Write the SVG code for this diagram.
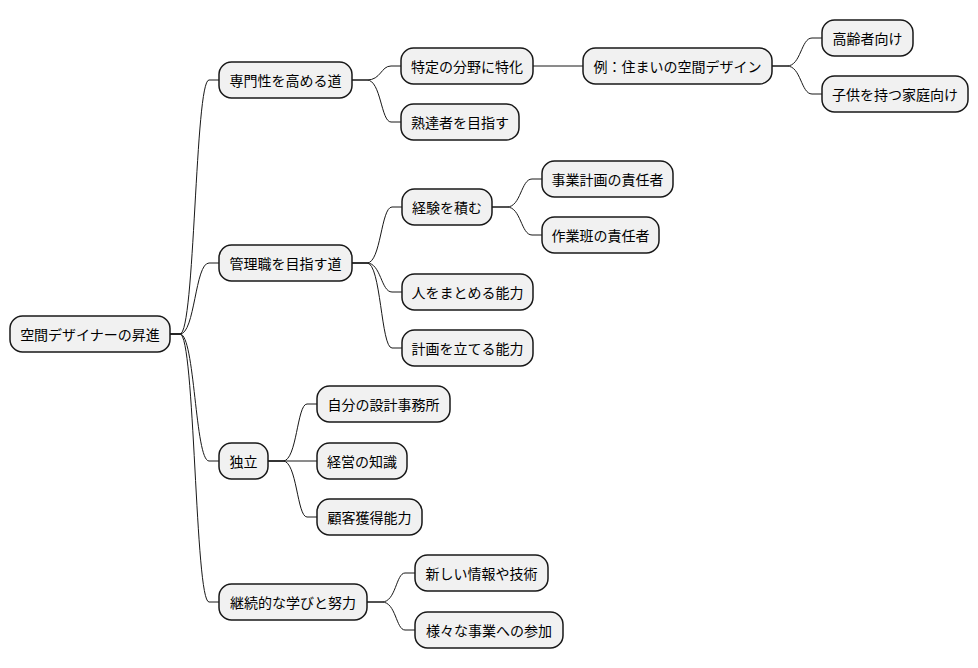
<svg xmlns="http://www.w3.org/2000/svg" width="978" height="668" viewBox="0 0 978 668">
<style>
.n rect{fill:#F1F1F1;stroke:#181818;stroke-width:1.5}
.n text{font-family:"Noto Sans CJK JP","Noto Sans",sans-serif;font-size:14px;fill:#000;text-anchor:middle;dominant-baseline:central}
.c path{fill:none;stroke:#181818;stroke-width:1}
</style>
<rect width="978" height="668" fill="#fff"/>
<g class="c">
<path d="M170,334 L180,334 C195,334 195,80 209,80 L219,80"/>
<path d="M170,334 L180,334 C195,334 195,263 209,263 L219,263"/>
<path d="M170,334 L180,334 C195,334 195,461 209,461 L219,461"/>
<path d="M170,334 L180,334 C195,334 195,602 209,602 L219,602"/>
<path d="M352,80 L367,80 C381,80 381,66 391,66 L401,66"/>
<path d="M352,80 L367,80 C381,80 381,122 391,122 L401,122"/>
<path d="M533,66 L583,66"/>
<path d="M772,66 L787,66 C801,66 801,38 812,38 L822,38"/>
<path d="M772,66 L787,66 C801,66 801,94 812,94 L822,94"/>
<path d="M352,263 L367,263 C381,263 381,207 392,207 L402,207"/>
<path d="M352,263 L367,263 C381,263 381,292 392,292 L402,292"/>
<path d="M352,263 L367,263 C381,263 381,348 392,348 L402,348"/>
<path d="M492,207 L507,207 C521,207 521,179 532,179 L542,179"/>
<path d="M492,207 L507,207 C521,207 521,235 532,235 L542,235"/>
<path d="M268,461 L283,461 C297,461 297,404 307,404 L317,404"/>
<path d="M268,461 L317,461"/>
<path d="M268,461 L283,461 C297,461 297,517 307,517 L317,517"/>
<path d="M367,602 L382,602 C396,602 396,573 405,573 L415,573"/>
<path d="M367,602 L382,602 C396,602 396,630 405,630 L415,630"/>
</g>
<g id="root" class="n"><rect x="10" y="316" width="160" height="36" rx="12.5"/><text x="90" y="334">空間デザイナーの昇進</text></g>
<g id="n1" class="n"><rect x="219" y="62" width="133" height="36" rx="12.5"/><text x="285.5" y="80">専門性を高める道</text></g>
<g id="n11" class="n"><rect x="401" y="48" width="132" height="36" rx="12.5"/><text x="467" y="66">特定の分野に特化</text></g>
<g id="n111" class="n"><rect x="583" y="48" width="189" height="36" rx="12.5"/><text x="677.5" y="66">例：住まいの空間デザイン</text></g>
<g id="n1111" class="n"><rect x="822" y="20" width="91" height="36" rx="12.5"/><text x="867.5" y="38">高齢者向け</text></g>
<g id="n1112" class="n"><rect x="822" y="76" width="146" height="36" rx="12.5"/><text x="895" y="94">子供を持つ家庭向け</text></g>
<g id="n12" class="n"><rect x="401" y="104" width="118" height="36" rx="12.5"/><text x="460" y="122">熟達者を目指す</text></g>
<g id="n2" class="n"><rect x="219" y="245" width="133" height="36" rx="12.5"/><text x="285.5" y="263">管理職を目指す道</text></g>
<g id="n21" class="n"><rect x="402" y="189" width="90" height="36" rx="12.5"/><text x="447" y="207">経験を積む</text></g>
<g id="n211" class="n"><rect x="542" y="161" width="131" height="36" rx="12.5"/><text x="607.5" y="179">事業計画の責任者</text></g>
<g id="n212" class="n"><rect x="542" y="217" width="117" height="36" rx="12.5"/><text x="600.5" y="235">作業班の責任者</text></g>
<g id="n22" class="n"><rect x="402" y="274" width="131" height="36" rx="12.5"/><text x="467.5" y="292">人をまとめる能力</text></g>
<g id="n23" class="n"><rect x="402" y="330" width="131" height="36" rx="12.5"/><text x="467.5" y="348">計画を立てる能力</text></g>
<g id="n3" class="n"><rect x="219" y="443" width="49" height="36" rx="12.5"/><text x="243.5" y="461">独立</text></g>
<g id="n31" class="n"><rect x="317" y="386" width="133" height="36" rx="12.5"/><text x="383.5" y="404">自分の設計事務所</text></g>
<g id="n32" class="n"><rect x="317" y="443" width="90" height="36" rx="12.5"/><text x="362" y="461">経営の知識</text></g>
<g id="n33" class="n"><rect x="317" y="499" width="105" height="36" rx="12.5"/><text x="369.5" y="517">顧客獲得能力</text></g>
<g id="n4" class="n"><rect x="219" y="584" width="148" height="36" rx="12.5"/><text x="293" y="602">継続的な学びと努力</text></g>
<g id="n41" class="n"><rect x="415" y="555" width="133" height="36" rx="12.5"/><text x="481.5" y="573">新しい情報や技術</text></g>
<g id="n42" class="n"><rect x="415" y="612" width="148" height="36" rx="12.5"/><text x="489" y="630">様々な事業への参加</text></g>
</svg>
